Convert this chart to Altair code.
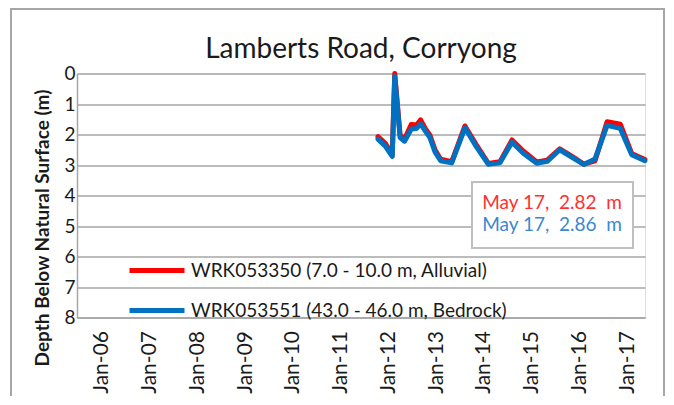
import altair as alt
import pandas as pd

# ---- data ----
dates = ["2011-10-15", "2011-12-10", "2012-02-01", "2012-02-20", "2012-04-01",
         "2012-05-05", "2012-06-25", "2012-08-05", "2012-09-05", "2012-10-10",
         "2012-11-15", "2012-12-25", "2013-02-05", "2013-05-01", "2013-08-10",
         "2013-11-05", "2014-02-05", "2014-05-05", "2014-08-05", "2014-11-01",
         "2015-02-10", "2015-05-01", "2015-08-05", "2015-11-01", "2016-02-05",
         "2016-05-01", "2016-08-01", "2016-11-10", "2017-02-05", "2017-05-17"]
alluvial = [2.07, 2.29, 2.67, 0.00, 2.02, 2.15, 1.67, 1.69, 1.52, 1.80,
            2.02, 2.51, 2.81, 2.89, 1.72, 2.34, 2.95, 2.89, 2.18, 2.55,
            2.90, 2.84, 2.47, 2.70, 2.97, 2.86, 1.58, 1.66, 2.62, 2.82]
bedrock = [2.15, 2.38, 2.72, 0.10, 2.10, 2.22, 1.82, 1.80, 1.65, 1.88,
           2.10, 2.58, 2.86, 2.93, 1.78, 2.40, 2.98, 2.93, 2.25, 2.62,
           2.94, 2.88, 2.50, 2.73, 2.98, 2.80, 1.70, 1.80, 2.66, 2.86]
series_names = ["WRK053350 (7.0 - 10.0 m, Alluvial)",
                "WRK053551 (43.0 - 46.0 m, Bedrock)"]
series_colors = ["#FF0000", "#0070C0"]
text_colors = ["#FF3030", "#3B87CF"]
last_label = "May 17"
years = list(range(2006, 2018))
y_ticks = [0, 1, 2, 3, 4, 5, 6, 7, 8]
title = "Lamberts Road, Corryong"
y_title = "Depth Below Natural Surface (m)"

FONT = "Lato"
GRID = "#A6A6A6"
INK = "#1a1a1a"
NB = "\u00a0"

df = pd.DataFrame({
    "date": dates * 2,
    "depth": alluvial + bedrock,
    "series": [series_names[0]] * len(dates) + [series_names[1]] * len(dates),
})

notes = pd.DataFrame({
    "label": [f"{last_label},{NB} {alluvial[-1]:.2f}{NB} m", f"{last_label},{NB} {bedrock[-1]:.2f}{NB} m"],
    "series": series_names,
    "row": [0, 1],
})

x_scale = alt.Scale(type="utc", domain=[alt.DateTime(year=2005, month=6, date=26, utc=True),
                                        alt.DateTime(year=2017, month=5, date=18, utc=True)])
y_scale = alt.Scale(domain=[0, 8], reverse=True, nice=False, zero=False)

one = pd.DataFrame({"t": [title]})

border = alt.Chart(one).mark_rect(
    fill="white", fillOpacity=0, stroke=GRID, strokeWidth=2
).encode(x=alt.value(-66), x2=alt.value(587), y=alt.value(-64.5), y2=alt.value(340))

title_mark = alt.Chart(one).mark_text(
    font=FONT, fontSize=28, color=INK, align="center", baseline="alphabetic"
).encode(x=alt.value(284), y=alt.value(-15.5), text="t:N")

lines = alt.Chart(df).mark_line(strokeWidth=5, strokeJoin="round", strokeCap="round").encode(
    x=alt.X("date:T", scale=x_scale,
            axis=alt.Axis(title=None, values=[alt.DateTime(year=y, month=1, date=1, utc=True) for y in years],
                          labelExpr="utcFormat(datum.value, '%b-%y')",
                          labelAngle=270, labelFontSize=21, labelFont=FONT, labelColor=INK,
                          labelPadding=13, ticks=False, grid=False,
                          domainColor=GRID, domainWidth=1.5, labelOverlap=False)),
    y=alt.Y("depth:Q", scale=y_scale,
            axis=alt.Axis(values=y_ticks, title=y_title, titleFont=FONT, titleFontSize=19,
                          titleFontWeight="bold", titleColor=INK,
                          titleAngle=270, titleX=-35, titleY=154, titleAlign="center",
                          titleBaseline="middle",
                          labelFontSize=19, labelFont=FONT, labelColor=INK, labelPadding=2,
                          ticks=False, grid=True, gridColor=GRID, gridWidth=1.5,
                          domainColor=GRID, domainWidth=1.5)),
    color=alt.Color("series:N", title=None,
                    scale=alt.Scale(domain=series_names, range=series_colors),
                    legend=alt.Legend(orient="none", legendX=50, legendY=167,
                                      symbolType="stroke", symbolSize=3025, symbolStrokeWidth=5,
                                      labelFont=FONT, labelFontSize=19, labelColor=INK,
                                      labelLimit=600, labelOffset=4, rowPadding=-2, padding=0)),
)

box = alt.Chart(one).mark_rect(
    fill="white", stroke="#BFBFBF", strokeWidth=2
).encode(x=alt.value(395), x2=alt.value(556), y=alt.value(108.5), y2=alt.value(174.5))

note_text = alt.Chart(notes).mark_text(font=FONT, fontSize=19, align="center", baseline="middle").encode(
    x=alt.value(475),
    y=alt.Y("row:Q", scale=alt.Scale(domain=[0, 1], range=[129.5, 151.5]), axis=None),
    text="label:N",
    color=alt.Color("series:N", scale=alt.Scale(domain=series_names, range=text_colors), legend=None),
)

chart = alt.layer(border, title_mark, lines, box, note_text).resolve_scale(
    color="independent", y="independent"
).properties(
    width=568, height=244,
    padding={"left": 69, "top": 65.5, "right": 21, "bottom": 78},
    autosize=alt.AutoSizeParams(type="none"),
).configure_view(strokeWidth=0).configure(background="white")

chart.save("out.html", embed_options={"renderer": "svg", "actions": False})
